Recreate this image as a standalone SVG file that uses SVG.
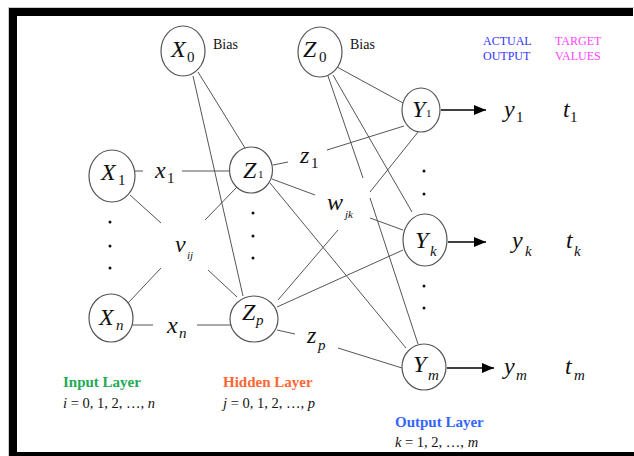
<svg xmlns="http://www.w3.org/2000/svg" width="634" height="456" viewBox="0 0 634 456">
<style>
.n{fill:#fff;stroke:#555;stroke-width:1.2}
.c line{stroke:#555;stroke-width:1}
text{font-family:'Liberation Serif','DejaVu Serif',serif;fill:#111}
.i{font-style:italic}
.big{font-size:24px}
.sub{font-size:15px}
.sm{font-size:11px}
.hd{font-size:12px}
.lay{font-size:15px;font-weight:bold}
.eq{font-size:14.5px}
</style>
<defs>
<marker id="ah" markerUnits="userSpaceOnUse" markerWidth="13" markerHeight="11" refX="12" refY="5" orient="auto">
<path d="M0,0 L12,5 L0,10 z" fill="#000"/>
</marker>
</defs>
<rect x="0" y="0" width="634" height="456" fill="#fff"/>
<g id="frame">
<line x1="8" y1="7.5" x2="634" y2="7.5" stroke="#ccc"/>
<line x1="8.5" y1="7" x2="8.5" y2="456" stroke="#ccc"/>
<rect x="9" y="8" width="624" height="8" fill="#000"/>
<rect x="9" y="8" width="8" height="448" fill="#000"/>
<rect x="9" y="452" width="625" height="4" fill="#000"/>
</g>
<g id="connectors" class="c">
<line x1="198" y1="72" x2="245" y2="148"/>
<line x1="193" y1="76" x2="243" y2="296"/>
<line x1="135" y1="171" x2="143" y2="171"/>
<line x1="182" y1="171" x2="230" y2="171"/>
<line x1="130" y1="195" x2="161" y2="223"/>
<line x1="208" y1="270" x2="237" y2="297"/>
<line x1="128" y1="303" x2="161" y2="268"/>
<line x1="205" y1="220" x2="237" y2="187"/>
<line x1="132" y1="325" x2="153" y2="325"/>
<line x1="197" y1="325" x2="231" y2="325"/>
<line x1="337" y1="67" x2="403" y2="103"/>
<line x1="333" y1="75" x2="412" y2="212"/>
<line x1="328" y1="76" x2="363" y2="178"/>
<line x1="370" y1="198" x2="418" y2="344"/>
<line x1="273" y1="165" x2="288" y2="162"/>
<line x1="327" y1="150" x2="404" y2="126"/>
<line x1="272" y1="179" x2="315" y2="195"/>
<line x1="370" y1="218" x2="403" y2="230"/>
<line x1="270" y1="183" x2="406" y2="348"/>
<line x1="278" y1="300" x2="338" y2="230"/>
<line x1="370" y1="192" x2="418" y2="132"/>
<line x1="277" y1="307" x2="403" y2="250"/>
<line x1="277" y1="330" x2="295" y2="334"/>
<line x1="338" y1="348" x2="402" y2="368"/>
<line x1="441" y1="110" x2="486" y2="110" marker-end="url(#ah)" style="stroke:#000;stroke-width:1.5"/>
<line x1="448" y1="242" x2="486" y2="242" marker-end="url(#ah)" style="stroke:#000;stroke-width:1.5"/>
<line x1="447" y1="368" x2="494" y2="368" marker-end="url(#ah)" style="stroke:#000;stroke-width:1.5"/>
</g>
<g id="X0"><ellipse class="n" cx="183" cy="51" rx="22" ry="25"/><text class="i big" x="171" y="57">X</text><text class="sub" x="187" y="62">0</text></g>
<g id="Z0"><ellipse class="n" cx="320" cy="52" rx="22" ry="25"/><text class="i big" x="303" y="57">Z</text><text class="sub" x="319" y="62">0</text></g>
<g id="X1"><ellipse class="n" cx="112" cy="176" rx="23" ry="26"/><text class="i big" x="101" y="180">X</text><text class="sub" x="118" y="185">1</text></g>
<g id="Z1"><ellipse class="n" cx="251" cy="170" rx="21.5" ry="23"/><text class="i big" x="243" y="178">Z</text><text class="sm" x="258" y="178">1</text></g>
<g id="Xn"><ellipse class="n" cx="111" cy="318" rx="22" ry="24"/><text class="i big" x="99" y="325">X</text><text class="i sub" x="116" y="330">n</text></g>
<g id="Zp"><ellipse class="n" cx="254" cy="319" rx="24" ry="23"/><text class="i big" x="242" y="320">Z</text><text class="i sub" x="256" y="325">p</text></g>
<g id="Y1"><ellipse class="n" cx="421" cy="110" rx="19" ry="22"/><text class="i big" x="412" y="117">Y</text><text class="sm" x="426" y="117">1</text></g>
<g id="Yk"><ellipse class="n" cx="425" cy="240" rx="22" ry="26"/><text class="i big" x="415" y="248">Y</text><text class="i sub" x="430" y="256">k</text></g>
<g id="Ym"><ellipse class="n" cx="424" cy="367" rx="22" ry="23"/><text class="i big" x="413" y="372">Y</text><text class="i sub" x="428" y="380">m</text></g>
<g id="labels">
<text style="font-size:14px" x="213" y="49">Bias</text>
<text style="font-size:14px" x="350" y="49">Bias</text>
<text class="hd" x="483" y="45" style="fill:#3333ff">ACTUAL</text>
<text class="hd" x="483" y="60" style="fill:#3333ff">OUTPUT</text>
<text class="hd" x="555" y="45" style="fill:#ff44ff">TARGET</text>
<text class="hd" x="555" y="60" style="fill:#ff44ff">VALUES</text>
<text class="i big" x="155" y="178">x</text><text class="sub" x="167" y="183">1</text>
<text class="i big" x="167" y="333">x</text><text class="i sub" x="179" y="338">n</text>
<text class="i big" x="175" y="252">v</text><text class="i sm" x="187" y="259">ij</text>
<text class="i big" x="300" y="163">z</text><text class="sub" x="311" y="168">1</text>
<text class="i big" x="307" y="343">z</text><text class="i sub" x="318" y="350">p</text>
<text class="i big" x="327" y="210">w</text><text class="i sm" x="345" y="218">jk</text>
<text class="i big" x="504" y="117">y</text><text class="sub" x="516" y="122">1</text>
<text class="i big" x="563" y="117">t</text><text class="sub" x="570" y="122">1</text>
<text class="i big" x="512" y="248">y</text><text class="i sub" x="525" y="256">k</text>
<text class="i big" x="566" y="248">t</text><text class="i sub" x="574" y="256">k</text>
<text class="i big" x="504" y="374">y</text><text class="i sub" x="516" y="380">m</text>
<text class="i big" x="565" y="374">t</text><text class="i sub" x="574" y="380">m</text>
<text class="lay" x="63" y="387" style="fill:#22aa55">Input Layer</text>
<text class="eq" x="63" y="408"><tspan font-style="italic">i</tspan> = 0, 1, 2, …, <tspan font-style="italic">n</tspan></text>
<text class="lay" x="223" y="387" style="fill:#ff6633">Hidden Layer</text>
<text class="eq" x="223" y="408"><tspan font-style="italic">j</tspan> = 0, 1, 2, …, <tspan font-style="italic">p</tspan></text>
<text class="lay" x="395" y="427" style="fill:#3366ff">Output Layer</text>
<text class="eq" x="395" y="447"><tspan font-style="italic">k</tspan> = 1, 2, …, <tspan font-style="italic">m</tspan></text>
</g>
<g id="dots" fill="#111">
<circle cx="110" cy="222" r="1.5"/><circle cx="110" cy="246" r="1.5"/><circle cx="110" cy="268" r="1.5"/>
<circle cx="253" cy="213" r="1.5"/><circle cx="253" cy="236" r="1.5"/><circle cx="253" cy="258" r="1.5"/>
<circle cx="424" cy="171" r="1.5"/><circle cx="424" cy="194" r="1.5"/>
<circle cx="424" cy="286" r="1.5"/><circle cx="424" cy="308" r="1.5"/>
</g>
</svg>
